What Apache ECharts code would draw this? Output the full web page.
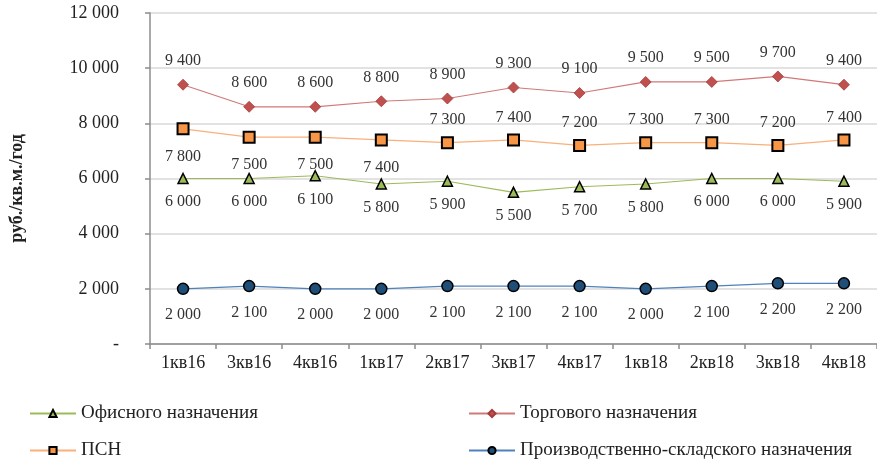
<!DOCTYPE html>
<html>
<head>
<meta charset="utf-8">
<script src="https://cdn.jsdelivr.net/npm/echarts@6/dist/echarts.min.js"></script>
<style>
  html, body { margin: 0; padding: 0; background: #fff; }
  #chart { width: 877px; height: 461px; }
</style>
</head>
<body>
<div id="chart"></div>
<script>
// Quarterly rental rates, руб./кв.м./год
const categories = ['1кв16', '3кв16', '4кв16', '1кв17', '2кв17', '3кв17', '4кв17', '1кв18', '2кв18', '3кв18', '4кв18'];
const officeValues = [6000, 6000, 6100, 5800, 5900, 5500, 5700, 5800, 6000, 6000, 5900];
const retailValues = [9400, 8600, 8600, 8800, 8900, 9300, 9100, 9500, 9500, 9700, 9400];
const psnValues = [7800, 7500, 7500, 7400, 7300, 7400, 7200, 7300, 7300, 7200, 7400];
const warehouseValues = [2000, 2100, 2000, 2000, 2100, 2100, 2100, 2000, 2100, 2200, 2200];
// ПСН labels: first four sit under the markers, the rest above
const psnLabelBelow = [true, true, true, true, false, false, false, false, false, false, false];

const FONT = '"Liberation Serif", "Times New Roman", serif';
const fmt = v => v === 0 ? '-' : String(v).replace(/\B(?=(\d{3})+(?!\d))/g, ' ');

const labelStyle = { fontFamily: FONT, fontSize: 16, color: '#333', formatter: p => fmt(p.value) };

function legendAt(left, top, name) {
  return {
    left: left, top: top, itemWidth: 46, itemHeight: 9, itemGap: 0,
    textStyle: { fontFamily: 'Liberation Serif', fontSize: 19, color: '#222' },
    data: [{ name: name, textStyle: { fontFamily: 'Liberation Serif' } }]
  };
}

const chart = echarts.init(document.getElementById('chart'));
chart.setOption({
  animation: false,
  textStyle: { fontFamily: FONT },
  grid: { left: 143, right: -10, top: 13, bottom: 117 },
  xAxis: {
    type: 'category',
    data: categories,
    boundaryGap: true,
    axisLine: { lineStyle: { color: '#8c8c8c', width: 1.5 } },
    axisTick: { show: true, length: 5, lineStyle: { color: '#8c8c8c', width: 1.5 } },
    axisLabel: { fontFamily: FONT, fontSize: 18, color: '#222', margin: 10 }
  },
  yAxis: {
    type: 'value',
    min: 0, max: 12000, interval: 2000,
    name: 'руб./кв.м./год',
    nameLocation: 'middle',
    nameGap: 124,
    nameTextStyle: { fontFamily: FONT, fontSize: 18, fontWeight: 'bold', color: '#222', padding: [0, 20, 0, 0] },
    axisLine: { show: true, lineStyle: { color: '#8c8c8c', width: 1.5 } },
    axisTick: { show: true, length: 5, lineStyle: { color: '#8c8c8c', width: 1.5 } },
    splitLine: { lineStyle: { color: '#d9d9d9', width: 1.5 } },
    axisLabel: { fontFamily: FONT, fontSize: 18, color: '#222', margin: 31, formatter: fmt }
  },
  legend: [
    legendAt(24, 399, 'Офисного назначения'),
    legendAt(24, 436, 'ПСН'),
    legendAt(463, 399, 'Торгового назначения'),
    legendAt(463, 436, 'Производственно-складского назначения')
  ],
  series: [
    {
      name: 'Офисного назначения', type: 'line', data: officeValues,
      symbol: 'triangle', symbolSize: 10,
      lineStyle: { color: '#9bbb59', width: 1.2 },
      itemStyle: { color: '#9bbb59', borderColor: '#000', borderWidth: 1.5 },
      label: Object.assign({ show: true, position: 'bottom', distance: 10 }, labelStyle)
    },
    {
      name: 'Торгового назначения', type: 'line', data: retailValues,
      symbol: 'diamond', symbolSize: 11,
      lineStyle: { color: '#d07a78', width: 1.2 },
      itemStyle: { color: '#c0504d', borderColor: '#a33c3a', borderWidth: 0.8 },
      label: Object.assign({ show: true, position: 'top', distance: 10 }, labelStyle)
    },
    {
      name: 'ПСН', type: 'line',
      data: psnValues.map((v, i) => ({
        value: v,
        label: psnLabelBelow[i] ? { position: 'bottom', distance: 13 } : { position: 'top', distance: 8 }
      })),
      symbol: 'rect', symbolSize: 11,
      lineStyle: { color: '#f9b07a', width: 1.2 },
      itemStyle: { color: '#f79646', borderColor: '#000', borderWidth: 2 },
      label: Object.assign({ show: true }, labelStyle)
    },
    {
      name: 'Производственно-складского назначения', type: 'line', data: warehouseValues,
      symbol: 'circle', symbolSize: 11,
      lineStyle: { color: '#4f81bd', width: 1.2 },
      itemStyle: { color: '#1f4e79', borderColor: '#000', borderWidth: 1.5 },
      label: Object.assign({ show: true, position: 'bottom', distance: 12 }, labelStyle)
    }
  ]
});
</script>
</body>
</html>
